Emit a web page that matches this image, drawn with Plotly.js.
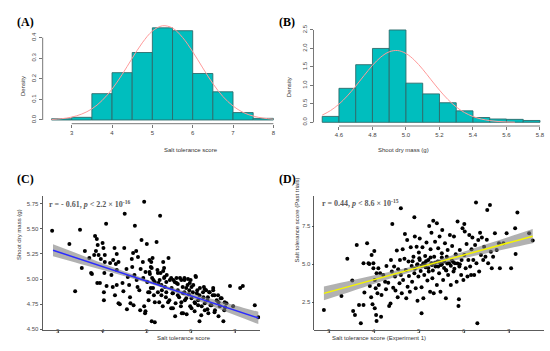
<!DOCTYPE html>
<html><head><meta charset="utf-8">
<script src="https://cdn.plot.ly/plotly-3.0.1.min.js"></script>
<style>html,body{margin:0;padding:0;background:#fff}#chart{width:550px;height:351px}</style>
</head><body><div id="chart"></div>
<script>
// ---------- Panel A: histogram of salt tolerance score ----------
const histA_mid = [2.75,3.25,3.75,4.25,4.75,5.25,5.75,6.25,6.75,7.25,7.75];
const histA_density = [0.006,0.013,0.128,0.230,0.328,0.448,0.434,0.226,0.137,0.036,0.008];
const curveA_x = [2.5,2.75,3.0,3.25,3.5,3.75,4.0,4.25,4.5,4.75,5.0,5.25,5.5,5.75,6.0,6.25,6.5,6.75,7.0,7.25,7.5,7.75,8.0];
const curveA_y = [0.0026,0.0063,0.014,0.029,0.054,0.094,0.150,0.221,0.300,0.375,0.432,0.458,0.447,0.401,0.332,0.253,0.177,0.114,0.068,0.037,0.019,0.009,0.004];
const ticksA_x = [3,4,5,6,7,8];
const ticksA_y = [0,0.1,0.2,0.3,0.4];
const labelsA_y = ['0.0','0.1','0.2','0.3','0.4'];

// ---------- Panel B: histogram of shoot dry mass ----------
const histB_mid = [4.55,4.65,4.75,4.85,4.95,5.05,5.15,5.25,5.35,5.45,5.55,5.65,5.75];
const histB_density = [0.16,0.92,1.56,2.0,2.5,1.06,0.77,0.53,0.31,0.13,0.09,0.08,0.05];
const curveB_x = [4.5,4.55,4.6,4.65,4.7,4.75,4.8,4.85,4.9,4.95,5.0,5.05,5.1,5.15,5.2,5.25,5.3,5.35,5.4,5.45,5.5,5.55,5.6,5.65];
const curveB_y = [0.195,0.319,0.492,0.715,0.981,1.266,1.541,1.767,1.909,1.944,1.864,1.685,1.436,1.151,0.871,0.620,0.416,0.263,0.157,0.088,0.047,0.022,0.010,0.004];
const ticksB_x = [4.6,4.8,5.0,5.2,5.4,5.6,5.8];
const labelsB_x = ['4.6','4.8','5.0','5.2','5.4','5.6','5.8'];
const ticksB_y = [0,0.5,1.0,1.5,2.0,2.5];
const labelsB_y = ['0.0','0.5','1.0','1.5','2.0','2.5'];

// ---------- Panel C: salt tolerance vs shoot dry mass ----------
const cX = [2.86,3.25,3.49,3.38,3.53,3.60,3.70,3.74,3.76,3.83,3.87,3.89,3.85,3.81,3.88,3.94,3.91,3.96,4.00,4.02,4.05,4.05,4.04,4.03,4.03,4.08,4.09,4.17,4.20,4.23,4.24,4.27,4.30,4.32,4.32,4.36,4.32,4.28,4.36,4.39,4.45,4.47,4.49,4.50,4.54,4.57,4.60,4.62,4.63,4.66,4.67,4.69,4.72,4.73,4.76,4.77,4.79,4.80,4.83,4.85,4.86,4.88,4.91,4.92,4.94,4.94,4.96,4.97,5.00,5.01,5.03,5.04,5.06,5.07,5.09,5.11,5.13,5.15,5.16,5.11,5.18,5.22,5.24,5.26,5.28,5.30,5.31,5.34,5.36,5.37,5.39,5.41,5.43,5.45,5.49,5.51,5.52,5.55,5.56,5.58,5.60,5.64,5.65,5.67,5.70,5.73,5.75,5.77,5.79,5.81,5.82,5.85,5.86,5.89,5.90,5.92,5.95,5.96,5.98,5.99,6.01,6.04,6.05,6.09,6.11,6.13,6.16,6.19,6.20,6.24,6.28,6.29,6.31,6.34,6.37,6.39,6.41,6.44,6.49,6.50,6.54,6.58,6.62,6.65,6.69,6.73,6.75,6.80,6.88,6.95,7.11,7.17,7.44,7.52,
  5.39,5.37,5.25,5.10,5.09,5.06,5.12,5.18,5.29,5.33,5.40,5.44,5.55,5.63,5.67,5.70,5.78,5.85,5.93,5.97,6.01,6.10,6.14,6.19,6.27,6.31,6.38,6.42,6.50,6.53,6.61,6.62,6.67,6.76,6.77,5.59,5.82,6.53,6.01,6.37,5.78,5.48,5.33,5.18,5.06,5.14,5.25,5.44,5.59,5.70,5.85,5.89,6.08,6.16,6.31,6.46,6.23,6.08,4.97,4.55,4.70];
const cY = [5.48,5.35,5.49,4.88,5.11,5.28,5.21,5.06,5.05,5.43,5.40,5.34,5.28,5.24,4.96,4.96,5.24,5.20,5.36,5.31,5.24,5.17,5.06,4.87,4.79,5.55,4.93,5.16,5.04,4.92,5.19,5.31,5.15,5.25,5.09,5.17,4.94,4.84,4.76,4.75,4.96,4.88,5.31,5.65,5.10,5.02,4.94,4.82,4.76,5.20,5.12,5.26,5.04,5.53,5.28,4.99,4.92,5.22,4.89,4.69,5.10,5.39,5.17,5.01,5.77,4.73,4.66,5.07,5.35,4.97,4.87,4.79,5.19,5.05,4.91,5.11,5.21,4.99,4.84,4.58,4.57,5.37,5.09,4.96,4.77,5.63,5.06,4.89,4.73,5.17,5.01,4.92,4.82,5.04,5.21,4.79,4.99,4.71,4.91,4.86,4.99,4.63,4.76,4.96,4.89,4.82,5.01,4.73,4.66,4.92,4.86,4.99,4.79,4.91,4.65,4.94,4.85,4.89,4.73,4.99,4.81,4.87,4.94,4.76,5.02,4.86,4.79,4.58,4.91,4.73,4.82,4.92,4.69,4.89,4.79,4.66,4.87,4.74,4.84,4.91,4.69,4.79,4.63,4.73,4.81,4.58,4.69,4.76,4.93,4.73,4.91,4.93,4.74,4.62,
  5.11,5.08,5.06,5.17,5.12,5.07,5.01,4.97,4.99,4.94,5.02,4.97,5.01,4.97,5.01,4.95,4.99,5.01,5.00,4.96,4.92,5.03,4.89,4.84,4.87,4.90,4.82,4.87,4.89,4.84,4.84,4.77,4.81,4.77,4.72,4.71,4.66,4.67,4.71,4.70,4.77,4.77,4.84,4.77,4.87,4.91,4.87,4.87,4.86,4.84,4.87,4.81,4.77,4.74,4.76,4.74,4.64,4.68,4.68,4.70,4.74];
const fitC_x = [2.88,3.5,4,4.5,5,5.5,6,6.5,7,7.52];
const fitC_y = [5.287,5.197,5.124,5.052,4.979,4.906,4.834,4.761,4.689,4.613];
const fitC_lo = [5.227,5.151,5.090,5.029,4.963,4.889,4.808,4.724,4.640,4.552];
const fitC_hi = [5.347,5.243,5.158,5.075,4.995,4.923,4.860,4.798,4.738,4.674];
const ticksC_x = [3,4,5,6,7];
const ticksC_y = [4.50,4.75,5.00,5.25,5.50,5.75];

// ---------- Panel D: experiment 1 vs past trials ----------
const dX = [2.88,3.27,3.40,3.51,3.53,3.57,3.61,3.66,3.70,3.76,3.76,3.78,3.84,3.87,3.89,3.90,3.93,3.94,3.96,3.98,3.98,4.00,4.01,4.01,4.03,4.04,4.05,4.05,4.07,4.09,4.10,4.13,4.15,4.16,4.20,4.24,4.26,4.27,4.31,4.33,4.36,4.37,4.39,4.40,4.42,4.44,4.46,4.47,4.50,4.52,4.53,4.56,4.57,4.59,4.59,4.61,4.63,4.64,4.67,4.68,4.70,4.71,4.73,4.74,4.76,4.77,4.79,4.81,4.83,4.84,4.87,4.89,4.89,4.90,4.92,4.94,4.96,4.96,4.98,4.99,5.01,5.01,5.03,5.05,5.05,5.07,5.09,5.09,5.11,5.13,5.14,5.16,5.18,5.20,5.21,5.22,5.24,5.25,5.27,5.27,5.29,5.31,5.32,5.33,5.35,5.36,5.39,5.39,5.41,5.42,5.44,5.45,5.47,5.48,5.50,5.51,5.53,5.55,5.57,5.59,5.59,5.61,5.63,5.64,5.66,5.68,5.70,5.72,5.73,5.76,5.77,5.79,5.81,5.83,5.85,5.87,5.88,5.89,5.90,5.93,5.94,5.96,5.98,6.00,6.00,6.01,6.03,6.05,6.07,6.09,6.11,6.13,6.15,6.16,6.18,6.20,6.22,6.24,6.26,6.27,6.29,6.31,6.33,6.35,6.37,6.39,6.42,6.44,6.47,6.50,6.51,6.53,6.57,6.59,6.61,6.64,6.68,6.72,6.77,6.79,6.87,6.94,7.04,7.13,7.14,7.18,7.44,7.52,
  5.05,5.12,5.20,5.28,5.35,5.42,5.50,5.55,5.62,5.70,5.78,5.85,5.15,5.30,5.45,5.60,5.75,5.90,5.00,5.25,5.50,4.90,4.95,4.85];
const dY = [1.99,2.92,5.37,3.93,1.93,1.67,6.27,2.32,1.12,5.07,2.32,3.14,6.38,5.07,5.02,3.57,2.83,5.61,2.37,5.07,4.74,5.88,2.11,3.97,3.42,1.67,1.27,4.41,3.09,4.74,3.64,4.41,1.56,2.98,4.30,3.86,3.36,4.89,3.79,2.26,2.43,5.29,4.52,7.65,3.46,4.85,4.19,3.27,5.90,2.83,4.67,3.75,5.29,8.68,4.30,3.09,5.99,3.97,5.37,7.00,4.63,2.76,6.60,3.53,5.18,4.23,3.20,6.12,4.89,3.86,5.50,8.09,4.41,6.82,3.42,6.16,5.00,2.61,4.19,5.77,5.29,6.69,4.56,1.78,3.49,6.12,5.07,2.76,4.30,5.55,4.80,6.43,3.93,5.29,4.52,7.52,3.20,5.99,5.07,7.08,4.08,7.87,3.09,5.50,6.49,4.85,7.70,3.64,5.18,6.05,4.41,6.82,3.20,4.96,5.72,7.26,3.97,5.18,6.38,4.63,2.76,5.50,5.94,4.30,5.07,6.93,3.64,5.29,6.21,4.52,6.82,5.07,5.66,3.86,7.81,2.26,2.70,4.85,5.94,4.30,5.29,7.37,3.97,7.65,5.61,7.15,4.74,6.34,4.19,5.29,6.93,4.85,4.30,5.99,6.76,5.29,4.30,6.27,9.06,5.07,1.12,6.60,4.52,7.08,5.61,6.76,5.29,6.16,5.50,6.62,8.57,5.07,8.90,5.83,4.74,5.50,7.04,5.94,6.38,4.74,6.38,7.04,4.74,7.37,5.68,8.40,7.04,6.56,
  4.90,5.00,4.75,4.95,5.10,4.85,5.00,4.75,5.05,4.90,4.70,5.05,5.20,4.60,5.15,4.60,5.15,5.00,5.40,5.45,5.45,4.70,4.95,5.20];
const fitD_x = [2.88,3.5,4,4.5,5,5.5,6,6.5,7,7.52];
const fitD_y = [3.09,3.59,4.00,4.40,4.81,5.22,5.62,6.03,6.43,6.85];
const fitD_lo = [2.64,3.23,3.72,4.19,4.65,5.06,5.40,5.73,6.05,6.38];
const fitD_hi = [3.54,3.95,4.28,4.61,4.97,5.38,5.84,6.33,6.81,7.32];
const ticksD_x = [3,4,5,6,7];
const ticksD_y = [2.5,5.0,7.5];

// ---------- styles ----------
const barFill = '#00BEBE', barLine = '#2E6B6B', curveCol = '#FF9A9A';
const tickFontR = {family:'Liberation Sans, Arial, sans-serif', size:6, color:'#444'};
const tickFontG = {family:'Liberation Sans, Arial, sans-serif', size:6, color:'#4d4d4d'};
const titleFont = {family:'Liberation Sans, Arial, sans-serif', size:6, color:'#333'};
const panelFont = {family:'Liberation Serif, Times New Roman, serif', size:12, color:'#000'};
const statFont = {family:'Liberation Serif, Times New Roman, serif', size:8, color:'#595959'};

const traces = [
  {type:'bar', x:histA_mid, y:histA_density, width:0.5, xaxis:'x', yaxis:'y',
   marker:{color:barFill, line:{color:barLine, width:0.9}}, hoverinfo:'skip'},
  {type:'scatter', mode:'lines', x:curveA_x, y:curveA_y, xaxis:'x', yaxis:'y',
   line:{color:curveCol, width:1, shape:'spline'}, hoverinfo:'skip'},
  {type:'bar', x:histB_mid, y:histB_density, width:0.1, xaxis:'x2', yaxis:'y2',
   marker:{color:barFill, line:{color:barLine, width:0.9}}, hoverinfo:'skip'},
  {type:'scatter', mode:'lines', x:curveB_x, y:curveB_y, xaxis:'x2', yaxis:'y2',
   line:{color:curveCol, width:1, shape:'spline'}, hoverinfo:'skip'},
  // Panel C
  {type:'scatter', mode:'markers', x:cX, y:cY, xaxis:'x3', yaxis:'y3',
   marker:{color:'#000', size:4}, hoverinfo:'skip'},
  {type:'scatter', mode:'lines', x:fitC_x, y:fitC_lo, xaxis:'x3', yaxis:'y3',
   line:{width:0, shape:'spline'}, hoverinfo:'skip'},
  {type:'scatter', mode:'lines', x:fitC_x, y:fitC_hi, xaxis:'x3', yaxis:'y3', fill:'tonexty',
   fillcolor:'rgba(125,125,125,0.6)', line:{width:0, shape:'spline'}, hoverinfo:'skip'},
  {type:'scatter', mode:'lines', x:fitC_x, y:fitC_y, xaxis:'x3', yaxis:'y3',
   line:{color:'#2B2BFF', width:1.5}, hoverinfo:'skip'},
  // Panel D
  {type:'scatter', mode:'markers', x:dX, y:dY, xaxis:'x4', yaxis:'y4',
   marker:{color:'#000', size:4}, hoverinfo:'skip'},
  {type:'scatter', mode:'lines', x:fitD_x, y:fitD_lo, xaxis:'x4', yaxis:'y4',
   line:{width:0, shape:'spline'}, hoverinfo:'skip'},
  {type:'scatter', mode:'lines', x:fitD_x, y:fitD_hi, xaxis:'x4', yaxis:'y4', fill:'tonexty',
   fillcolor:'rgba(125,125,125,0.6)', line:{width:0, shape:'spline'}, hoverinfo:'skip'},
  {type:'scatter', mode:'lines', x:fitD_x, y:fitD_y, xaxis:'x4', yaxis:'y4',
   line:{color:'#F5F500', width:1.5}, hoverinfo:'skip'}
];

const baseR = {showgrid:false, zeroline:false, showline:false, ticks:'outside', ticklen:3,
  tickcolor:'#555', tickwidth:0.8, tickfont:tickFontR, fixedrange:true};
const baseG = {showgrid:false, zeroline:false, showline:true, linecolor:'#333', linewidth:0.8,
  ticks:'outside', ticklen:2, tickcolor:'#333', tickwidth:0.8, tickfont:tickFontG, fixedrange:true};

const domA = {x:[0.0776,0.5131], y:[0.6476,0.9336]};
const domB = {x:[0.570,0.9976], y:[0.641,0.9251]};
const tickLabelRowY = 0.0445; // x tick-label row of panels C and D (paper)

const annotations = [
  {text:'<b>(A)</b>', x:0.0273, y:0.964, xref:'paper', yref:'paper', showarrow:false, font:panelFont},
  {text:'<b>(B)</b>', x:0.5227, y:0.964, xref:'paper', yref:'paper', showarrow:false, font:panelFont},
  {text:'<b>(C)</b>', x:0.0273, y:0.490, xref:'paper', yref:'paper', showarrow:false, font:panelFont},
  {text:'<b>(D)</b>', x:0.5227, y:0.490, xref:'paper', yref:'paper', showarrow:false, font:panelFont},
  {text:'Salt tolerance score', x:0.2945, y:0.5726, xref:'paper', yref:'paper', showarrow:false, font:titleFont},
  {text:'Density', x:0.0327, y:0.789, xref:'paper', yref:'paper', showarrow:false, textangle:-90, font:titleFont},
  {text:'Shoot dry mass (g)', x:0.7836, y:0.5726, xref:'paper', yref:'paper', showarrow:false, font:titleFont},
  {text:'Density', x:0.5255, y:0.786, xref:'paper', yref:'paper', showarrow:false, textangle:-90, font:titleFont},
  {text:'Salt tolerance score', x:0.2818, y:0.0225, xref:'paper', yref:'paper', showarrow:false, font:titleFont},
  {text:'Shoot dry mass (g)', x:0.0242, y:0.253, xref:'paper', yref:'paper', showarrow:false, textangle:-90, font:titleFont},
  {text:'Salt tolerance score (Experiment 1)', x:0.778, y:0.0225, xref:'paper', yref:'paper', showarrow:false, font:titleFont},
  {text:'Salt tolerance score (Past trials)', x:0.5395, y:0.247, xref:'paper', yref:'paper', showarrow:false, textangle:-90, font:titleFont},
  {text:'<b>r = - 0.61, <i>p</i> &lt; 2.2 × 10<sup>-16</sup></b>', x:0.0855, y:0.4197, xref:'paper', yref:'paper', xanchor:'left', showarrow:false, font:statFont},
  {text:'<b>r = 0.44, <i>p</i> &lt; 8.6 × 10<sup>-15</sup></b>', x:0.5818, y:0.4217, xref:'paper', yref:'paper', xanchor:'left', showarrow:false, font:statFont}
];
ticksC_x.forEach(v => annotations.push({text:String(v), x:v, xref:'x3', y:tickLabelRowY, yref:'paper',
  showarrow:false, font:tickFontG, borderpad:0}));
ticksD_x.forEach(v => annotations.push({text:String(v), x:v, xref:'x4', y:tickLabelRowY, yref:'paper',
  showarrow:false, font:tickFontG, borderpad:0}));

const layout = {
  width:550, height:351, margin:{l:0,r:0,t:0,b:0},
  paper_bgcolor:'#fff', plot_bgcolor:'rgba(0,0,0,0)', showlegend:false, bargap:0,
  xaxis: Object.assign({}, baseR, {domain:domA.x, range:[2.28,8.22], anchor:'y', tickvals:ticksA_x}),
  yaxis: Object.assign({}, baseR, {domain:domA.y, range:[-0.018,0.47], anchor:'x', tickvals:ticksA_y, ticktext:labelsA_y, tickangle:-90}),
  xaxis2: Object.assign({}, baseR, {domain:domB.x, range:[4.448,5.852], anchor:'y2', tickvals:ticksB_x, ticktext:labelsB_x}),
  yaxis2: Object.assign({}, baseR, {domain:domB.y, range:[-0.1,2.6], anchor:'x2', tickvals:ticksB_y, ticktext:labelsB_y, tickangle:-90}),
  xaxis3: Object.assign({}, baseG, {domain:[0.0771,0.4729], range:[2.64,7.56], anchor:'y3', tickvals:ticksC_x, showticklabels:false}),
  yaxis3: Object.assign({}, baseG, {domain:[0.0598,0.4416], range:[4.493,5.827], anchor:'x3', tickvals:ticksC_y, tickformat:'.2f'}),
  xaxis4: Object.assign({}, baseG, {domain:[0.5715,0.9882], range:[2.667,7.76], anchor:'y4', tickvals:ticksD_x, showticklabels:false}),
  yaxis4: Object.assign({}, baseG, {domain:[0.0598,0.4416], range:[0.68,9.49], anchor:'x4', tickvals:ticksD_y, tickformat:'.1f'}),
  shapes: [
    {type:'line', xref:'x', yref:'paper', x0:ticksA_x[0], x1:ticksA_x[ticksA_x.length-1], y0:domA.y[0], y1:domA.y[0], line:{color:'#555', width:0.8}},
    {type:'line', xref:'paper', yref:'y', x0:domA.x[0], x1:domA.x[0], y0:ticksA_y[0], y1:ticksA_y[ticksA_y.length-1], line:{color:'#555', width:0.8}},
    {type:'line', xref:'x2', yref:'paper', x0:ticksB_x[0], x1:ticksB_x[ticksB_x.length-1], y0:domB.y[0], y1:domB.y[0], line:{color:'#555', width:0.8}},
    {type:'line', xref:'paper', yref:'y2', x0:domB.x[0], x1:domB.x[0], y0:ticksB_y[0], y1:ticksB_y[ticksB_y.length-1], line:{color:'#555', width:0.8}}
  ],
  annotations: annotations
};

Plotly.newPlot('chart', traces, layout, {displayModeBar:false, staticPlot:true});
</script></body></html>
